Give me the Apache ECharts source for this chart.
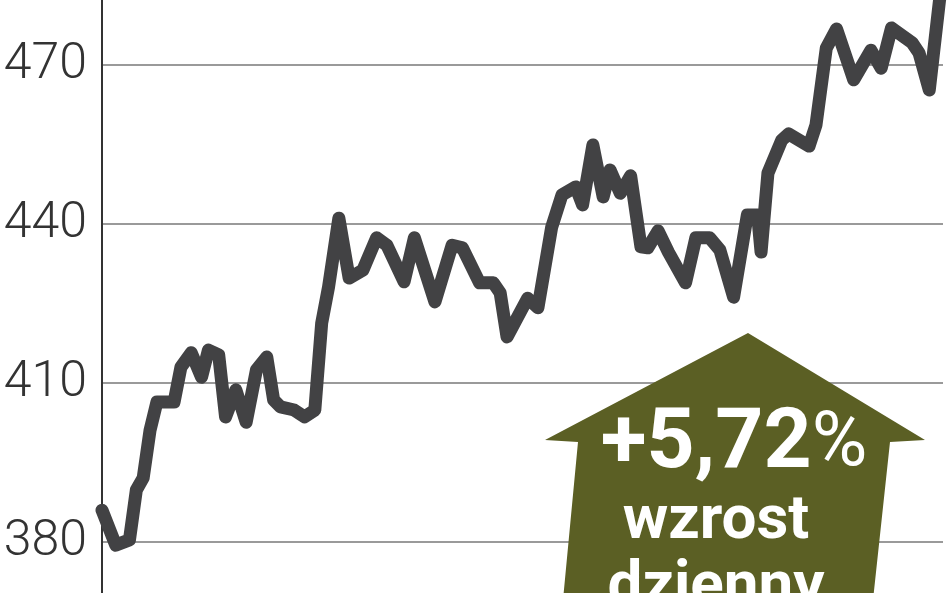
<!DOCTYPE html>
<html>
<head>
<meta charset="utf-8">
<script src="https://cdn.jsdelivr.net/npm/echarts@6/dist/echarts.min.js"></script>
<style>
  html, body { margin: 0; padding: 0; background: #fff; }
  #chart { width: 948px; height: 593px; }
</style>
</head>
<body>
<div id="chart"></div>
<script>
'use strict';

// session number and index level
var sessions = [0, 4, 8, 10, 12, 14, 16, 21, 23, 26, 29, 31, 34, 36, 39, 42, 45, 48, 50, 52,
  56, 59, 62, 64, 66, 69, 72, 76, 80, 83, 88, 91, 97, 102, 105, 110, 114, 116, 118, 124,
  127, 131, 134, 138, 140, 143, 146, 148, 151, 154, 157, 159, 162, 165, 170, 173, 177, 180, 184, 188,
  191, 192, 194, 198, 200, 206, 208, 211, 214, 219, 224, 227, 230, 236, 238, 241, 244, 245];
var values = [386.0, 379.4, 380.4, 389.8, 392.1, 401.1, 406.4, 406.4, 413.0, 415.7, 411.1, 416.2, 415.3, 403.6, 408.7, 402.6, 412.5, 414.9, 406.8, 405.5,
  404.9, 403.6, 404.9, 421.3, 428.1, 441.1, 429.8, 431.3, 437.4, 436.0, 429.1, 437.4, 425.3, 436.0, 435.5, 428.9, 428.9, 427.0, 418.7, 426.0,
  424.2, 439.4, 445.5, 447.0, 443.6, 454.9, 445.1, 450.2, 445.8, 449.1, 435.7, 435.5, 438.7, 434.7, 428.9, 437.4, 437.4, 435.1, 426.2, 441.7,
  441.7, 434.7, 449.6, 455.8, 457.0, 454.7, 458.7, 473.2, 476.8, 467.2, 472.8, 469.4, 477.0, 474.2, 472.3, 465.3, 482.3, 486.0];
var yTicks = [350, 380, 410, 440, 470, 500];
var changeLabel = '+5,72';
var changeWords = ['wzrost', 'dzienny'];

var points = sessions.map(function (s, i) { return [s, values[i]]; });

var chart = echarts.init(document.getElementById('chart'));

var option = {
  animation: false,
  backgroundColor: '#ffffff',
  grid: { left: 102, right: 5, top: -94, bottom: -108, containLabel: false, outerBoundsMode: 'none' },
  xAxis: {
    type: 'value',
    min: 0,
    max: 245,
    show: false
  },
  yAxis: {
    type: 'value',
    min: yTicks[0],
    max: yTicks[yTicks.length - 1],
    interval: 30,
    axisLine: { show: true, lineStyle: { color: '#333333', width: 2 } },
    axisTick: { show: false },
    splitLine: { show: true, lineStyle: { color: '#9a9a9a', width: 2 } },
    axisLabel: {
      margin: 15,
      color: '#333333',
      fontFamily: 'Roboto',
      fontWeight: 300,
      fontSize: 50
    }
  },
  series: [{
    type: 'line',
    data: points,
    showSymbol: false,
    clip: false,
    lineStyle: { color: '#424244', width: 13, cap: 'round', join: 'round' }
  }],
  graphic: [
    {
      type: 'polygon',
      z: 100,
      shape: {
        points: [[748, 333], [925, 440], [890, 442], [873, 600], [563, 600], [578, 442], [545, 440]]
      },
      style: { fill: '#5b5f24' }
    },
    {
      type: 'text',
      z: 101,
      x: 734,
      y: 446,
      style: {
        text: '{a|' + changeLabel + '}{b|%}',
        align: 'center',
        verticalAlign: 'middle',
        fill: '#ffffff',
        rich: {
          a: { fontFamily: 'Roboto', fontWeight: 'bold', fontSize: 84, fill: '#ffffff' },
          b: { fontFamily: 'Roboto', fontWeight: 'normal', fontSize: 76, fill: '#ffffff' }
        }
      }
    },
    {
      type: 'text',
      z: 101,
      x: 716,
      y: 522,
      style: {
        text: changeWords[0],
        align: 'center',
        verticalAlign: 'middle',
        fill: '#ffffff',
        font: 'bold 62px Roboto'
      }
    },
    {
      type: 'text',
      z: 101,
      x: 716,
      y: 588,
      style: {
        text: changeWords[1],
        align: 'center',
        verticalAlign: 'middle',
        fill: '#ffffff',
        font: 'bold 62px Roboto'
      }
    }
  ]
};

chart.setOption(option);
</script>
</body>
</html>
